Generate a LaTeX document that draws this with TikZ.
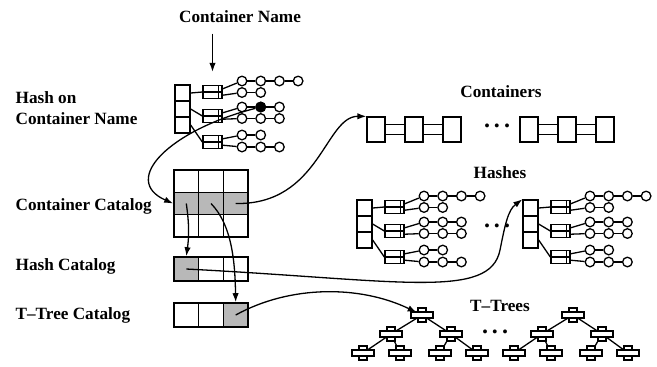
\documentclass[tikz,border=0pt]{standalone}
\usepackage{fontspec}
\setmainfont{Liberation Serif}
\usetikzlibrary{arrows.meta,positioning,calc}
\newcommand\lblfont{\fontsize{8.6pt}{10.3pt}\selectfont\bfseries}

\tikzset{
  tnode/.pic={
    \draw[fill=white] (-4,-7) rectangle (4,7);
    \draw[fill=white] (-11,-3) rectangle (11,3);
  },
  ttree/.pic={
    \coordinate (-r) at (0,0);
    \coordinate (-a) at (-31,19);
    \coordinate (-b) at (29,19);
    \coordinate (-aa) at (-59,38);
    \coordinate (-ab) at (-22,38);
    \coordinate (-ba) at (18,38);
    \coordinate (-bb) at (55,38);
    \draw (-r) -- (-a) (-r) -- (-b) (-a) -- (-aa) (-a) -- (-ab) (-b) -- (-ba) (-b) -- (-bb);
    \foreach \tn in {r,a,b,aa,ab,ba,bb}
      \pic at (-\tn) {tnode};
  },
  hashtab/.pic={
    \foreach \i in {1,2,3}
      \node[slot] (-l\i) at (7.5,16*\i-8) {};
    \foreach \i/\y in {1/7,2/31,3/57} {
      \node[bucket] (-s\i) at (37.5,\y) {};
      \draw (-l\i.east) -- (-s\i.west);
    }
    \foreach \row/\y/\n in {1/-4/4,2/7.5/2,3/22/3,4/33.5/3,5/50/2,6/62/3} {
      \foreach \k in {1,...,\n}
        \node[ring] (-c\row\k) at ({67+18.7*(\k-1)},\y) {};
      \foreach \k in {2,...,\n} {
        \pgfmathtruncatemacro\pk{\k-1}
        \draw (-c\row\pk) -- (-c\row\k);
      }
    }
    \foreach \i in {1,2,3} {
      \pgfmathtruncatemacro\ra{2*\i-1}
      \pgfmathtruncatemacro\rb{2*\i}
      \draw ([yshift=1.6pt]-s\i.east) -- (-c\ra1);
      \draw ([yshift=-1.6pt]-s\i.east) -- (-c\rb1);
    }
  }
}

\begin{document}
\begin{tikzpicture}[
  x=0.5pt, y=-0.5pt, line width=0.65pt,
  slot/.style={draw, minimum width=7.5pt, minimum height=8pt, inner sep=0pt},
  bucket/.style={draw, minimum width=9.5pt, minimum height=6.5pt, inner sep=0pt,
    path picture={
      \draw (path picture bounding box.west) -- (path picture bounding box.east);
      \draw ([xshift=-1.6pt]path picture bounding box.north east) -- ([xshift=-1.6pt]path picture bounding box.south east);
    }},
  ring/.style={circle, draw, minimum size=4.8pt, inner sep=0pt},
  cell/.style={draw, minimum width=12.33pt, minimum height=11.17pt, inner sep=0pt, line width=0.8pt},
  cbox/.style={draw, minimum width=9pt, minimum height=12.5pt, inner sep=0pt},
  shade/.style={fill=black!28},
  lbl/.style={font=\lblfont, anchor=west, align=left, inner sep=0pt},
  ttl/.style={font=\lblfont, inner sep=0pt},
  dots/.style={font=\fontsize{12pt}{12pt}\selectfont\bfseries, inner sep=0pt},
  arr/.style={-{Latex[length=4.5pt,width=3.2pt]}},
]
  \useasboundingbox (0,0) rectangle (657,366);

  % labels
  \node[ttl] (cname) at (240,17) {Container Name};
  \node[lbl] (hashlbl) at (15,108) {Hash on\\Container Name};
  \node[lbl] (cclbl) at (15,206) {Container Catalog};
  \node[lbl] (hclbl) at (15,266) {Hash Catalog};
  \node[lbl] (tclbl) at (15,315) {T\textendash Tree Catalog};
  \node[ttl] (contlbl) at (501,92) {Containers};
  \node[ttl] (hshlbl) at (500,173) {Hashes};
  \node[ttl] (treelbl) at (500,306) {T\textendash Trees};

  % hash on container name
  \pic (h0) at (175,85) {hashtab};
  \fill (h0-c32) circle[radius=2.7pt];

  % catalogs
  \foreach \row/\y in {1/181.2,3/225.8}
    \foreach \c/\x in {1/186.3,2/211,3/235.7}
      \node[cell] (cc\row\c) at (\x,\y) {};
  \foreach \c/\x in {1/186.3,2/211,3/235.7}
    \node[cell, shade] (cc2\c) at (\x,203.5) {};
  \node[cell, shade, minimum height=12pt] (hc1) at (186.3,269) {};
  \node[cell, minimum height=12pt] (hc2) at (211,269) {};
  \node[cell, minimum height=12pt] (hc3) at (235.7,269) {};
  \node[cell, minimum height=12pt] (tc1) at (186.3,315) {};
  \node[cell, minimum height=12pt] (tc2) at (211,315) {};
  \node[cell, shade, minimum height=12pt] (tc3) at (235.7,315) {};

  % containers
  \foreach \i/\x in {1/376,2/414,3/452,4/529,5/567,6/605}
    \node[cbox] (cont\i) at (\x,129.5) {};
  \foreach \a/\b in {1/2,2/3,4/5,5/6}
    \draw ([yshift=2.5pt]cont\a.east) -- ([yshift=2.5pt]cont\b.west)
          ([yshift=-2.5pt]cont\a.east) -- ([yshift=-2.5pt]cont\b.west);
  \node[dots] (cdots) at (497,126) {.\,.\,.};

  % hashes
  \pic (h1) at (357,200) {hashtab};
  \pic (h2) at (523,200) {hashtab};
  \node[dots] (hdots) at (497,226) {.\,.\,.};

  % t-trees
  \pic (tr1) at (422,315) {ttree};
  \pic (tr2) at (573,315) {ttree};
  \node[dots] (tdots) at (495,332) {.\,.\,.};

  % pointers
  \draw[arr, shorten <=5pt, shorten >=6.5pt] (cname.south -| h0-s1.north) -- (h0-s1.north);
  \draw[arr] (h0-c32) .. controls (170,130) and (120,180) .. (cc21.west);
  \draw[arr] (cc21.center) to[bend left=8] (hc1.north);
  \draw[arr] (cc22.center) .. controls (232,225) and (235,262) .. (tc3.north);
  \draw[arr] (cc23.center) .. controls (320,205) and (325,116) .. (cont1.north west);
  \draw[arr] (hc1.center) .. controls (400,280) and (490,300) .. (500,250)
    .. controls (505,225) and (508,210) .. (h2-l1.north west);
  \draw[arr, shorten >=3pt] (tc3.center) .. controls (290,285) and (360,285) .. (tr1-r);
\end{tikzpicture}
\end{document}
